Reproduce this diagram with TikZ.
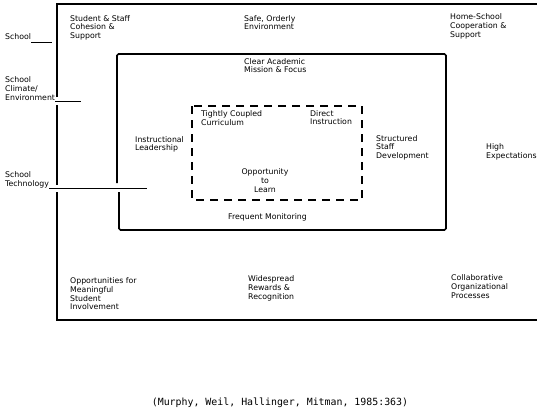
\documentclass[tikz,border=0pt]{standalone}
\usepackage{fontspec}
\setmainfont{DejaVu Sans}
\newfontfamily\citefont{DejaVu Sans Mono}
\usetikzlibrary{positioning}

\begin{document}
\begin{tikzpicture}[x=1pt,y=-1pt,
                    every node/.style={inner sep=0pt, anchor=north west, align=left,
                                       font=\fontsize{7.8}{8.7}\selectfont},
                    outerline/.style={line width=2.2pt},
                    middleline/.style={line width=1.6pt, rounded corners=1.5pt},
                    coreline/.style={line width=1.6pt, dash pattern=on 8pt off 6pt},
                    leader/.style={line width=0.6pt}]
\useasboundingbox (0,0) rectangle (537,416);
% level labels
\node (school) at (5,33.5) {School};
\node (climate) at (5,76.5) {School\\Climate/\\Environment};
\node (tech) at (5,171.5) {School\\Technology};
\coordinate (schoolend) at (52,42);
\coordinate (climend) at (81,101);
\coordinate (techend) at (147,188);
\draw[leader] (school.east |- schoolend) -- (schoolend);
\draw[leader] (climate.east |- climend) -- (climend);
\draw[leader] (tech.east |- techend) -- (techend);
% school climate box
\draw[outerline] (57,97) -- (57,4) -- (537,4);
\draw[outerline] (57,105) -- (57,185);
\draw[outerline] (57,192) -- (57,320) -- (537,320);
% school technology box
\draw[middleline] (117,183) -- (117,54) -- (446,54) -- (446,230) -- (119,230) -- (119,192);
% core box
\draw[coreline] (192,106) rectangle (362,200);
% outer factors
\node (cohesion) at (70,15) {Student \& Staff\\Cohesion \&\\Support};
\node (safe) at (244,15) {Safe, Orderly\\Environment};
\node (homeschool) at (450,13.5) {Home-School\\Cooperation \&\\Support};
\node (expect) at (486,143.5) {High\\Expectations};
\node (involve) at (70,277.5) {Opportunities for\\Meaningful\\Student\\Involvement};
\node (rewards) at (248,275.5) {Widespread\\Rewards \&\\Recognition};
\node (collab) at (451,274.5) {Collaborative\\Organizational\\Processes};
% technology factors
\node (mission) at (244,58) {Clear Academic\\Mission \& Focus};
\node (leader) at (135,136) {Instructional\\Leadership};
\node (staffdev) at (376,135) {Structured\\Staff\\Development};
\node (monitor) at (228,213.5) {Frequent Monitoring};
% core factors
\node (curric) at (201,110.5) {Tightly Coupled\\Curriculum};
\node (direct) at (310,110) {Direct\\Instruction};
\node[anchor=north, align=center] (learn) at (265,168.5) {Opportunity\\to\\Learn};
% source
\node[anchor=center, font=\citefont\fontsize{9.9}{11}\selectfont] (source) at (280,403)
     {(Murphy, Weil, Hallinger, Mitman, 1985:363)};
\end{tikzpicture}
\end{document}
